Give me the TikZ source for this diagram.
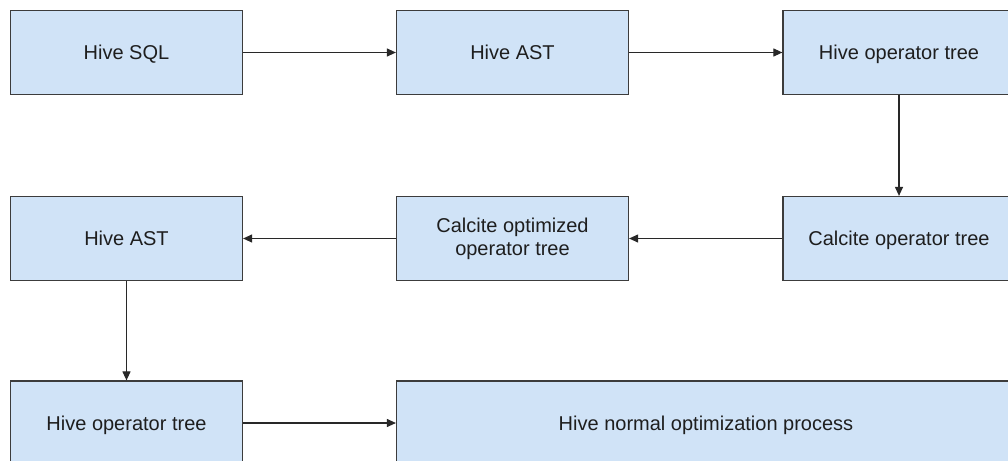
\documentclass[tikz,border=0pt]{standalone}
\usepackage{fontspec}
\setmainfont{Liberation Sans}
\usetikzlibrary{arrows.meta}
\definecolor{boxfill}{RGB}{208,227,247}
\definecolor{boxline}{RGB}{60,60,60}
\definecolor{arrowcol}{RGB}{40,40,40}
\definecolor{txt}{RGB}{30,30,30}
\tikzset{
  box/.style={draw=boxline, fill=boxfill, line width=1.2pt, rectangle,
    minimum width=232pt, minimum height=84pt, inner sep=0pt,
    text=txt, align=center, font=\fontsize{20}{23}\selectfont},
  oneline/.style={text height=18pt, text depth=3.7pt},
  flow/.style={draw=arrowcol, line width=1.1pt, -{Triangle[length=9pt,width=8pt]}}
}
\begin{document}
\begin{tikzpicture}[x=1pt,y=-1pt]
\useasboundingbox (0,0) rectangle (1008,460);
\clip (0,0) rectangle (1008,460);
\fill[white] (0,0) rectangle (1008,460);
\node[box, oneline] (sql) at (126.5,52.5) {Hive SQL};
\node[box, oneline] (ast1) at (512.5,52.5) {Hive AST};
\node[box, oneline] (op1) at (899,52.5) {Hive operator tree};
\node[box, oneline] (ast2) at (126.5,238.5) {Hive AST};
\node[box] (copt) at (512.5,238.5) {Calcite optimized\\operator tree};
\node[box, oneline] (cop) at (899,238.5) {Calcite operator tree};
\node[box, oneline] (op2) at (126.5,423) {Hive operator tree};
\node[box, oneline, minimum width=619pt] (norm) at (706,423) {Hive normal optimization process};
\draw[flow] (sql) -- (ast1);
\draw[flow] (ast1) -- (op1);
\draw[flow] (op1) -- (cop);
\draw[flow] (cop) -- (copt);
\draw[flow] (copt) -- (ast2);
\draw[flow] (ast2) -- (op2);
\draw[flow] (op2) -- (norm);
\end{tikzpicture}
\end{document}
